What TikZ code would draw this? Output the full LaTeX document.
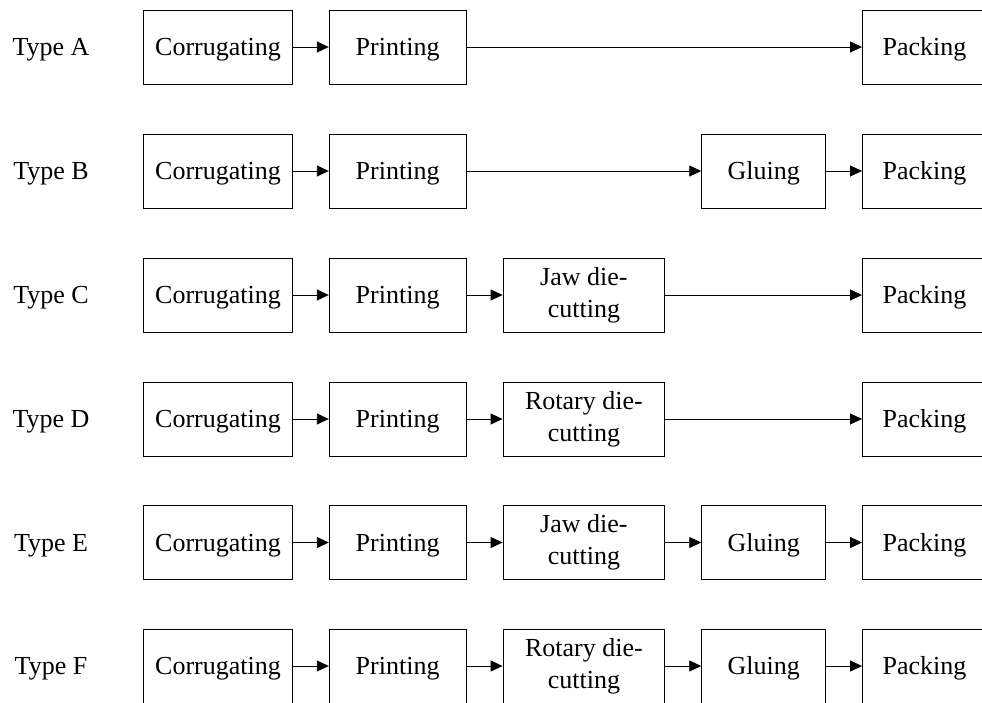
\documentclass[tikz,border=0pt]{standalone}
\usepackage{fontspec}
\setmainfont{Liberation Serif}
\usetikzlibrary{arrows.meta}
\begin{document}
\begin{tikzpicture}[x=1pt,y=-1pt,
  txt/.style={font=\fontsize{26}{32}\selectfont},
  oneline/.style={text height=17pt, text depth=0pt},
  stage/.style={txt, draw, line width=0.9pt, minimum height=74pt, inner sep=0pt, align=center},
  corr/.style={stage, oneline, minimum width=149pt},
  prnt/.style={stage, oneline, minimum width=136.7pt},
  diecut/.style={stage, minimum width=161.7pt},
  glue/.style={stage, oneline, minimum width=124pt},
  pack/.style={stage, oneline, minimum width=124pt},
  rowlabel/.style={txt, oneline},
  flow/.style={line width=0.9pt, -{Triangle[length=12pt, width=11pt]}}
]
\clip (0,0) rectangle (982,702);

% stages shared by every line: label, corrugating, printing, packing
\foreach \r/\y/\t in {a/47/A, b/171/B, c/295/C, d/419/D, e/542.5/E, f/666/F}{
  \node[rowlabel] (l\r) at (51,\y) {Type \t};
  \node[corr] (\r1) at (218,\y) {Corrugating};
  \node[prnt] (\r2) at (397.6,\y) {Printing};
  \node[pack] (\r5) at (924.5,\y) {Packing};
  \draw[flow] (\r1) -- (\r2);
}

% Type A
\draw[flow] (a2) -- (a5);

% Type B
\node[glue] (b4) at (763.7,171) {Gluing};
\draw[flow] (b2) -- (b4);
\draw[flow] (b4) -- (b5);

% Type C
\node[diecut] (c3) at (583.9,295) {Jaw die-\\cutting};
\draw[flow] (c2) -- (c3);
\draw[flow] (c3) -- (c5);

% Type D
\node[diecut] (d3) at (583.9,419) {Rotary die-\\cutting};
\draw[flow] (d2) -- (d3);
\draw[flow] (d3) -- (d5);

% Type E
\node[diecut] (e3) at (583.9,542.5) {Jaw die-\\cutting};
\node[glue] (e4) at (763.7,542.5) {Gluing};
\draw[flow] (e2) -- (e3);
\draw[flow] (e3) -- (e4);
\draw[flow] (e4) -- (e5);

% Type F
\node[diecut] (f3) at (583.9,666) {Rotary die-\\cutting};
\node[glue] (f4) at (763.7,666) {Gluing};
\draw[flow] (f2) -- (f3);
\draw[flow] (f3) -- (f4);
\draw[flow] (f4) -- (f5);
\end{tikzpicture}
\end{document}
